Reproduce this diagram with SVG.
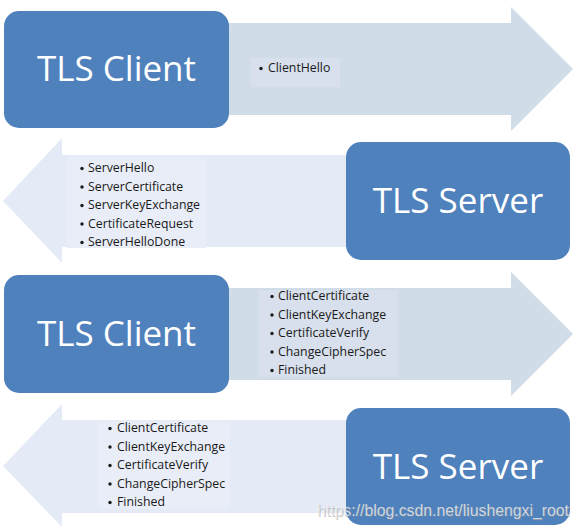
<svg xmlns="http://www.w3.org/2000/svg" width="580" height="531" viewBox="0 0 580 531">
<style>
.box{fill:#4f81bd;}
.big{font-family:"Open Sans","Liberation Sans",sans-serif;font-size:35px;fill:#ffffff;text-anchor:middle;}
.arR{fill:#d1dce9;}
.arL{fill:#e5ebf6;}
.bgR{fill:#d7e0ec;}
.bgL{fill:#e8edf7;}
.sm{font-family:"Open Sans","Liberation Sans",sans-serif;font-size:12.3px;fill:#1a1a1a;}
.dot{fill:#1a1a1a;}
.wm{font-family:"Liberation Sans",Arial,sans-serif;font-size:16px;}
</style>
<rect width="580" height="531" fill="#ffffff"/>
<g id="connectors">
  <g id="arrow1">
    <polygon class="arR" points="200,23 511,23 511,7 573,69 511,131 511,115 200,115"/>
    <rect class="bgR" x="251" y="58" width="89" height="29"/>
    <circle class="dot" cx="261" cy="68.5" r="1.7"/>
    <text class="sm" x="268" y="72">ClientHello</text>
  </g>
  <g id="arrow2">
    <polygon class="arL" points="380,155 62,155 62,138 3,201 62,263 62,247 380,247"/>
    <rect class="bgL" x="67" y="157" width="139" height="91"/>
    <g class="dot">
      <circle cx="82" cy="168.5" r="1.7"/>
      <circle cx="82" cy="187" r="1.7"/>
      <circle cx="82" cy="205.5" r="1.7"/>
      <circle cx="82" cy="224" r="1.7"/>
      <circle cx="82" cy="242.5" r="1.7"/>
    </g>
    <text class="sm" x="88" y="172">ServerHello</text>
    <text class="sm" x="88" y="190.5">ServerCertificate</text>
    <text class="sm" x="88" y="209">ServerKeyExchange</text>
    <text class="sm" x="88" y="227.5">CertificateRequest</text>
    <text class="sm" x="88" y="246">ServerHelloDone</text>
  </g>
  <g id="arrow3">
    <polygon class="arR" points="200,288 511,288 511,272 573,334 511,396 511,380 200,380"/>
    <rect class="bgR" x="259" y="290" width="139" height="87"/>
    <g class="dot">
      <circle cx="272" cy="296.5" r="1.7"/>
      <circle cx="272" cy="315" r="1.7"/>
      <circle cx="272" cy="333.5" r="1.7"/>
      <circle cx="272" cy="352" r="1.7"/>
      <circle cx="272" cy="370.5" r="1.7"/>
    </g>
    <text class="sm" x="278" y="300">ClientCertificate</text>
    <text class="sm" x="278" y="318.5">ClientKeyExchange</text>
    <text class="sm" x="278" y="337">CertificateVerify</text>
    <text class="sm" x="278" y="355.5">ChangeCipherSpec</text>
    <text class="sm" x="278" y="374">Finished</text>
  </g>
  <g id="arrow4">
    <polygon class="arL" points="380,420 62,420 62,404 3,466 62,527 62,513 380,513"/>
    <rect class="bgL" x="98" y="421" width="132" height="88"/>
    <g class="dot">
      <circle cx="110" cy="428.5" r="1.7"/>
      <circle cx="110" cy="447" r="1.7"/>
      <circle cx="110" cy="465.5" r="1.7"/>
      <circle cx="110" cy="484" r="1.7"/>
      <circle cx="110" cy="502.5" r="1.7"/>
    </g>
    <text class="sm" x="117" y="432">ClientCertificate</text>
    <text class="sm" x="117" y="450.5">ClientKeyExchange</text>
    <text class="sm" x="117" y="469">CertificateVerify</text>
    <text class="sm" x="117" y="487.5">ChangeCipherSpec</text>
    <text class="sm" x="117" y="506">Finished</text>
  </g>
</g>
<g id="client1">
  <rect class="box" x="4" y="11" width="225" height="117" rx="15"/>
  <text class="big" x="116.5" y="81">TLS Client</text>
</g>
<g id="server1">
  <rect class="box" x="346" y="142" width="224" height="118" rx="15"/>
  <text class="big" x="458" y="213">TLS Server</text>
</g>
<g id="client2">
  <rect class="box" x="4" y="275" width="225" height="118" rx="15"/>
  <text class="big" x="116.5" y="346">TLS Client</text>
</g>
<g id="server2">
  <rect class="box" x="346" y="408" width="224" height="117" rx="15"/>
  <text class="big" x="458" y="479">TLS Server</text>
</g>
<g id="watermark">
  <text class="wm" x="318" y="517" fill="#8a8a8a" fill-opacity="0.5" textLength="252" lengthAdjust="spacingAndGlyphs">https://blog.csdn.net/liushengxi_root</text>
  <text class="wm" x="317" y="516" fill="#eeeeee" fill-opacity="0.8" textLength="252" lengthAdjust="spacingAndGlyphs">https://blog.csdn.net/liushengxi_root</text>
</g>
</svg>
